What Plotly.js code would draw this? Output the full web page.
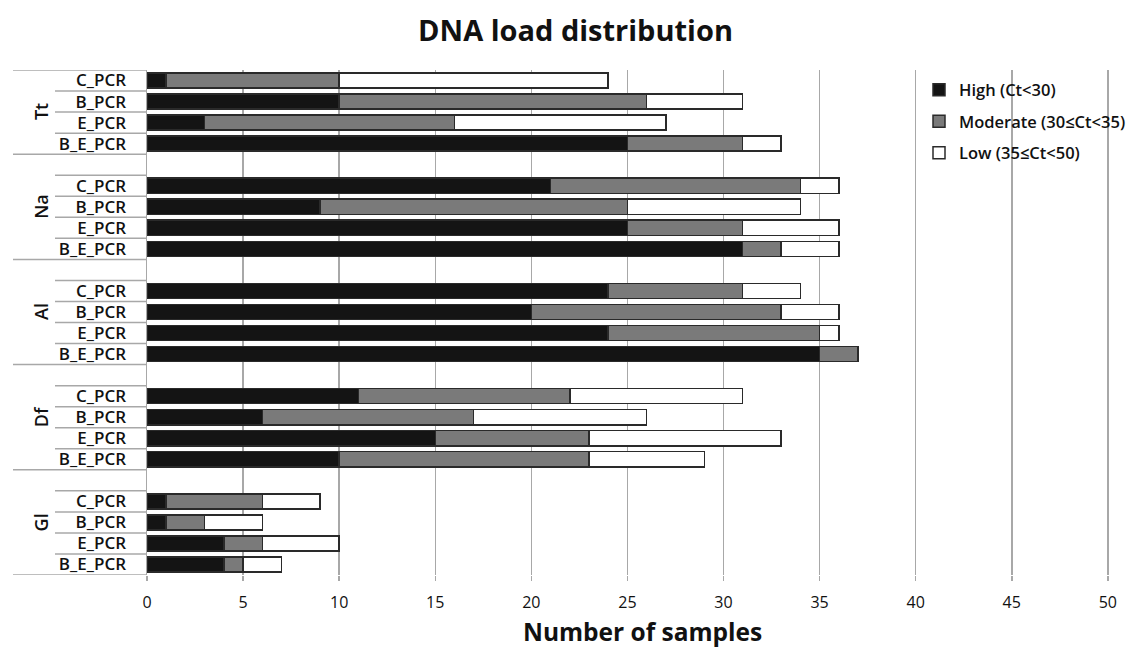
<!DOCTYPE html>
<html>
<head>
<meta charset="utf-8">
<script src="https://cdn.plot.ly/plotly-3.0.1.min.js"></script>
<style>html,body{margin:0;padding:0;background:#fff;}#chart{width:1133px;height:650px;}</style>
</head>
<body>
<div id="chart"></div>
<script>
// ---- data ----
var groups = ['Tt', 'Na', 'Al', 'Df', 'Gl'];
var subcats = ['C_PCR', 'B_PCR', 'E_PCR', 'B_E_PCR'];
var seriesNames = ['High (Ct<30)', 'Moderate (30≤Ct<35)', 'Low (35≤Ct<50)'];
// ordered by group (Tt..Gl), then subcategory (C, B, E, B_E)
var high     = [1, 10, 3, 25,   21, 9, 25, 31,   24, 20, 24, 35,   11, 6, 15, 10,   1, 1, 4, 4];
var moderate = [9, 16, 13, 6,   13, 16, 6, 2,    7, 13, 11, 2,     11, 11, 8, 13,   5, 2, 2, 1];
var low      = [14, 5, 11, 2,   2, 9, 5, 3,      3, 3, 1, 0,       9, 9, 10, 6,     3, 3, 4, 2];
var xTicks = [0, 5, 10, 15, 20, 25, 30, 35, 40, 45, 50];

// ---- build slot positions (one blank slot between groups) ----
var slotsPerGroup = subcats.length + 1;
var yPos = [], yLab = [];
groups.forEach(function (g, gi) {
  subcats.forEach(function (s, si) {
    yPos.push(gi * slotsPerGroup + si);
    yLab.push(s);
  });
});
var nSlots = groups.length * slotsPerGroup - 1;

var colors = ['#141414', '#7a7a7a', '#ffffff'];
var values = [high, moderate, low];
var traces = values.map(function (v, i) {
  return {
    type: 'bar', orientation: 'h',
    x: v, y: yPos, name: seriesNames[i],
    legendgroup: 'g' + i,
    marker: {color: colors[i], line: {color: '#2a2a2a', width: 1.5}},
    hoverinfo: 'x+name'
  };
});

// ---- label-area divider lines & group labels ----
var plotLeftPx = 147, plotW = 1133 - 147 - 24;
var plotTopPx = 70, plotH = 650 - 70 - 75;
function paperX(px) { return (px - plotLeftPx) / plotW; }
function paperY(py) { return 1 - (py - plotTopPx) / plotH; }
var shapes = [], annotations = [];
var lineColor = '#a8a8a8';
groups.forEach(function (g, gi) {
  var first = gi * slotsPerGroup - (gi === 0 ? 0 : 1); // blank slot belongs to next group
  var start = first - 0.5;
  var end = gi * slotsPerGroup + subcats.length - 0.5;
  shapes.push({type: 'line', xref: 'paper', yref: 'y', x0: paperX(13), x1: 0, y0: start, y1: start,
               line: {color: lineColor, width: 1.5}});
  for (var k = (gi === 0 ? 1 : 0); k < subcats.length; k++) {
    var yb = gi * slotsPerGroup + k - 0.5;
    shapes.push({type: 'line', xref: 'paper', yref: 'y', x0: paperX(55), x1: 0, y0: yb, y1: yb,
                 line: {color: lineColor, width: 1.5}});
  }
  if (gi === groups.length - 1) {
    shapes.push({type: 'line', xref: 'paper', yref: 'y', x0: paperX(13), x1: 0, y0: end, y1: end,
                 line: {color: lineColor, width: 1.5}});
  }
  annotations.push({xref: 'paper', yref: 'y', x: paperX(27), y: (start + end) / 2,
                    text: g, showarrow: false, textangle: -90,
                    font: {family: 'Open Sans', size: 18, color: '#111', weight: 600}});
});
// x-axis title (placed as annotation to match the original's slight offset)
annotations.push({xref: 'paper', yref: 'paper', x: paperX(642), y: paperY(631),
                  xanchor: 'center', yanchor: 'middle', showarrow: false,
                  text: '<b>Number of samples</b>',
                  font: {family: 'Open Sans', size: 24.5, color: '#111'}});

var layout = {
  width: 1133, height: 650,
  margin: {l: 147, r: 24, t: 70, b: 75, autoexpand: false},
  paper_bgcolor: '#fff', plot_bgcolor: '#fff',
  barmode: 'stack', bargap: 0.28,
  font: {family: 'Open Sans', color: '#111'},
  title: {text: '<b>DNA load distribution</b>', x: 0.508, xref: 'container', xanchor: 'center',
          y: 0.952, yref: 'container', yanchor: 'middle',
          font: {family: 'Open Sans', size: 29, color: '#111'}},
  xaxis: {range: [0, 50.06], tickvals: xTicks, ticktext: xTicks.map(String),
          showgrid: true, gridcolor: lineColor, gridwidth: 1.5, zeroline: false,
          showline: false, ticks: 'outside', ticklen: 5, tickcolor: lineColor, tickwidth: 1.5,
          ticklabelstandoff: 8,
          tickfont: {family: 'Open Sans', size: 16, color: '#111'},
          automargin: false, fixedrange: true},
  yaxis: {range: [nSlots - 0.5, -0.5], tickvals: yPos, ticktext: yLab,
          showgrid: false, zeroline: false, showline: true, linecolor: lineColor, linewidth: 1.5,
          ticks: '', ticklabelstandoff: 16,
          tickfont: {family: 'Open Sans', size: 17, color: '#111', weight: 600},
          automargin: false, fixedrange: true},
  legend: {x: paperX(919), y: 0.995, xanchor: 'left', yanchor: 'top',
           traceorder: 'grouped', tracegroupgap: 7, bgcolor: 'rgba(0,0,0,0)',
           font: {family: 'Open Sans', size: 16.5, color: '#111', weight: 600}},
  shapes: shapes,
  annotations: annotations
};

Plotly.newPlot('chart', traces, layout, {displayModeBar: false, staticPlot: true});
</script>
</body>
</html>
